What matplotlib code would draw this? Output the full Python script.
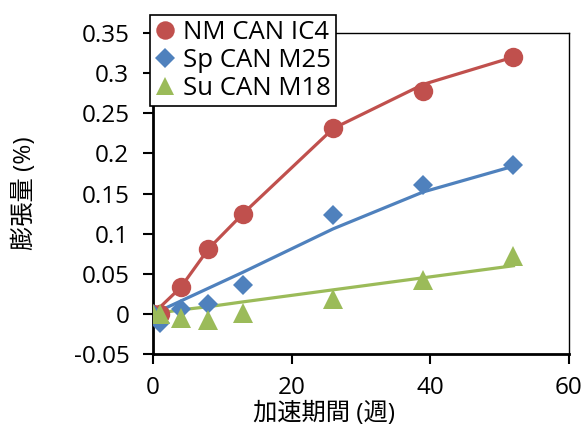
import matplotlib
matplotlib.use("Agg")
import matplotlib.pyplot as plt
from matplotlib.lines import Line2D

plt.rcParams['font.family'] = ['Open Sans', 'Noto Sans CJK JP', 'DejaVu Sans']

# measured expansion (%) vs accelerated period (weeks)
weeks = [0, 1, 4, 8, 13, 26, 39, 52]
nm_can_ic4 = [0.0, 0.0, 0.033, 0.081, 0.125, 0.231, 0.278, 0.320]
sp_can_m25 = [0.0, -0.011, 0.006, 0.012, 0.036, 0.123, 0.160, 0.185]
su_can_m18 = [0.0, 0.0, -0.005, -0.007, 0.001, 0.018, 0.042, 0.072]

# trend lines
trend_weeks = [0, 4, 8, 13, 26, 39, 52]
nm_trend = [0.0, 0.033, 0.081, 0.125, 0.231, 0.286, 0.320]
sp_trend = [0.0, 0.016, 0.032, 0.052, 0.106, 0.152, 0.184]
su_trend = [0.0, 0.005, 0.009, 0.015, 0.030, 0.045, 0.060]

labels = ['NM CAN IC4', 'Sp CAN M25', 'Su CAN M18']
colors = ['#C0504D', '#4F81BD', '#9BBB59']
markers = ['o', 'D', '^']
msizes = [14, 10.5, 14]

yticks = [-0.05, 0, 0.05, 0.1, 0.15, 0.2, 0.25, 0.3, 0.35]
ytick_labels = ['-0.05', '0', '0.05', '0.1', '0.15', '0.2', '0.25', '0.3', '0.35']
xticks = [0, 20, 40, 60]

fig = plt.figure(figsize=(5.85, 4.25), dpi=100)
ax = fig.add_axes([0.2615, 0.167, 0.711, 0.7554])

series = [nm_can_ic4, sp_can_m25, su_can_m18]
trends = [nm_trend, sp_trend, su_trend]
for i in range(3):
    ax.plot(trend_weeks, trends[i], color=colors[i], lw=2.3, zorder=2)
for i in range(3):
    ax.plot(weeks, series[i], linestyle='none', marker=markers[i],
            markersize=msizes[i], color=colors[i], markeredgewidth=0, zorder=3)

ax.set_xlim(0, 60)
ax.set_ylim(-0.05, 0.35)
ax.set_xticks(xticks)
ax.set_yticks(yticks)
ax.set_yticklabels(ytick_labels)
ax.tick_params(direction='out', length=7, width=1.5, labelsize=17.5, pad=10)
ax.tick_params(axis='x', pad=9)
for s in ['left', 'bottom']:
    ax.spines[s].set_linewidth(2)
for s in ['top', 'right']:
    ax.spines[s].set_linewidth(1)

ax.set_xlabel('加速期間 (週)', fontsize=17.5)
ax.set_ylabel('膨張量 (%)', fontsize=17.5)
ax.xaxis.set_label_coords(0.41, -0.148)
ax.yaxis.set_label_coords(-0.279, 0.5)

handles = [Line2D([], [], linestyle='none', marker=markers[i], markersize=msizes[i] * 0.95,
                  color=colors[i], markeredgewidth=0) for i in range(3)]
leg = fig.legend(handles, labels, loc='upper left', bbox_to_anchor=(0.256, 0.965),
                 bbox_transform=fig.transFigure, borderaxespad=0, fancybox=False,
                 edgecolor='black', framealpha=1, fontsize=18.5, handlelength=0.8,
                 handletextpad=0.3, labelspacing=0.12, borderpad=0.2)
leg.get_frame().set_linewidth(1.2)

fig.savefig('out.png', dpi=100)
